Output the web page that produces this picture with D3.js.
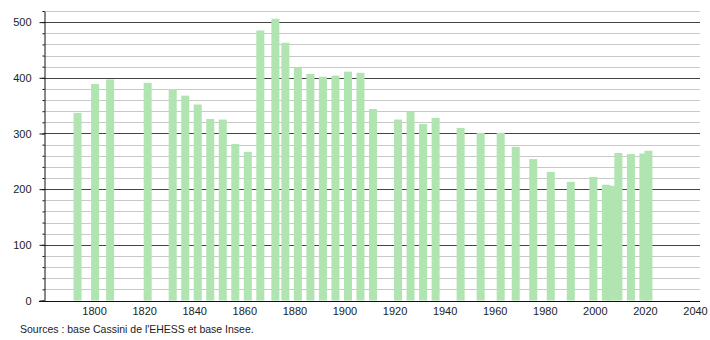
<!DOCTYPE html>
<html>
<head>
<meta charset="utf-8">
<script src="https://cdn.jsdelivr.net/npm/d3@7"></script>
<style>
  body { margin: 0; background: #fff; }
  svg { font-family: "Liberation Sans", Arial, sans-serif; }
</style>
</head>
<body>
<div id="chart"></div>
<script>
// population by census year
const years = [1793, 1800, 1806, 1821, 1831, 1836, 1841, 1846, 1851, 1856, 1861, 1866, 1872, 1876,
  1881, 1886, 1891, 1896, 1901, 1906, 1911, 1921, 1926, 1931, 1936, 1946, 1954, 1962, 1968,
  1975, 1982, 1990, 1999, 2004, 2006, 2009, 2014, 2019, 2021];
const population = [337, 389, 397, 391, 380, 368, 352, 326, 325, 281, 267, 485, 506, 463,
  418, 407, 402, 404, 411, 409, 344, 325, 339, 317, 328, 310, 301, 301, 276,
  254, 231, 213, 222, 208, 206, 265, 263, 264, 269];
const xTicks = [1800, 1820, 1840, 1860, 1880, 1900, 1920, 1940, 1960, 1980, 2000, 2020, 2040];
const yTicks = [0, 100, 200, 300, 400, 500];
const yMinorTicks = d3.range(0, 521, 20);
const source = "Sources : base Cassini de l'EHESS et base Insee.";

const data = years.map((y, i) => ({ year: y, value: population[i] }));

const width = 710, height = 340;
const plotLeft = 44, plotRight = 700, plotTop = 11, plotBottom = 300.5;
const barWidth = 8;

const svg = d3.select("#chart").append("svg")
  .attr("width", width)
  .attr("height", height);

const x = d3.scaleLinear().domain([1780, 2042]).range([plotLeft, plotRight]);
const y = d3.scaleLinear().domain([0, 520]).range([plotBottom, plotTop]);

// grid lines, light every 20 and dark every 100
svg.append("g")
  .selectAll("line")
  .data(yMinorTicks.filter(d => d % 100 !== 0 && d > 0))
  .join("line")
  .attr("x1", plotLeft).attr("x2", plotRight)
  .attr("y1", d => Math.round(y(d)) + 0.5)
  .attr("y2", d => Math.round(y(d)) + 0.5)
  .attr("stroke", "#c8c8c8")
  .attr("stroke-width", 1);

svg.append("g")
  .selectAll("line")
  .data(yTicks.filter(d => d > 0))
  .join("line")
  .attr("x1", plotLeft).attr("x2", plotRight)
  .attr("y1", d => Math.round(y(d)) + 0.5)
  .attr("y2", d => Math.round(y(d)) + 0.5)
  .attr("stroke", "#444")
  .attr("stroke-width", 1);

// bars
svg.append("g")
  .selectAll("rect")
  .data(data)
  .join("rect")
  .attr("x", d => x(d.year) - barWidth / 2 + 1)
  .attr("y", d => y(d.value))
  .attr("width", barWidth)
  .attr("height", d => y(0) - y(d.value))
  .attr("fill", "#b0e4b0");

// y axis with minor ticks
const yMinorAxis = svg.append("g")
  .attr("transform", `translate(${plotLeft + 0.5},0)`)
  .call(d3.axisLeft(y).tickValues(yMinorTicks).tickSize(2).tickFormat(""));
yMinorAxis.select(".domain").remove();
yMinorAxis.selectAll("line").attr("stroke", "#111");

const yAxis = svg.append("g")
  .attr("transform", `translate(${plotLeft + 0.5},0)`)
  .call(d3.axisLeft(y).tickValues(yTicks).tickSize(5).tickPadding(8).tickSizeOuter(0));
yAxis.select(".domain").attr("stroke", "#111");
yAxis.selectAll("line").attr("stroke", "#111");
yAxis.selectAll("text")
  .attr("font-size", 11)
  .attr("fill", "#222");

// x axis
const xAxis = svg.append("g")
  .attr("transform", `translate(0,${Math.round(plotBottom) + 0.5})`)
  .call(d3.axisBottom(x).tickValues(xTicks).tickFormat(d3.format("d")).tickSize(0).tickPadding(6).tickSizeOuter(0));
xAxis.select(".domain").attr("stroke", "#111").attr("d", `M${plotLeft - 5},0H${plotRight}`);
xAxis.selectAll("text")
  .attr("font-size", 11)
  .attr("fill", "#222");

// source note
svg.append("text")
  .attr("x", 20)
  .attr("y", 333)
  .attr("font-size", 10.5)
  .attr("fill", "#222")
  .text(source);
</script>
</body>
</html>
